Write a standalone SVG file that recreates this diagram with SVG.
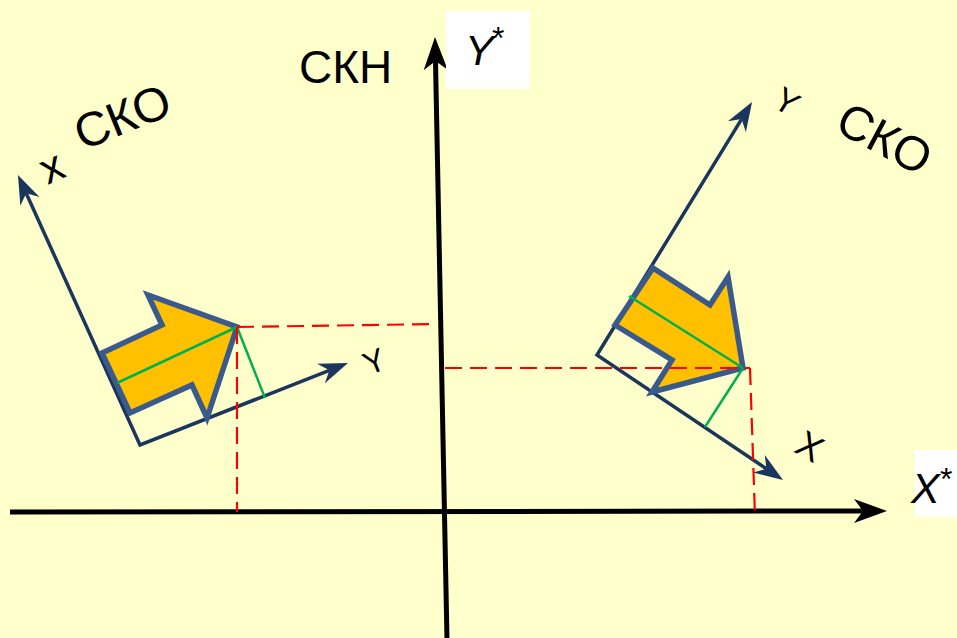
<svg xmlns="http://www.w3.org/2000/svg" width="957" height="638" viewBox="0 0 957 638">
<style>
.axis{stroke:#000;stroke-width:5;fill:none}
.frame{stroke:#1B365D;stroke-width:3.5;fill:none;stroke-linejoin:miter}
.shape{fill:#FFC000;stroke:#3A5A8C;stroke-width:5.5;stroke-linejoin:miter}
.green{stroke:#00B050;stroke-width:2.5;fill:none}
.red{stroke:#FF0000;stroke-width:2.2;fill:none;stroke-dasharray:17 8}
.lbl{font-family:"Liberation Sans",Arial,sans-serif;fill:#000}
.it{font-style:italic}
</style>
<defs>
<marker id="ahBlack" viewBox="-34 -13 36 26" refX="-24" refY="0" markerWidth="36" markerHeight="26" markerUnits="userSpaceOnUse" orient="auto">
<path d="M0,0 L-33,-12 L-24,0 L-33,12 Z" fill="#000"/>
</marker>
<marker id="ahBlue" viewBox="-31 -12 33 24" refX="-20" refY="0" markerWidth="33" markerHeight="24" markerUnits="userSpaceOnUse" orient="auto-start-reverse">
<path d="M0,0 L-29,-10.5 L-20,0 L-29,10.5 Z" fill="#1B365D"/>
</marker>
</defs>
<rect width="957" height="638" fill="#FFFFCC"/>

<g id="axes">
<line class="axis" x1="10" y1="512" x2="863" y2="511" marker-end="url(#ahBlack)"/>
<line class="axis" x1="447" y1="640" x2="435.5" y2="61" marker-end="url(#ahBlack)"/>
</g>

<g id="label-ckn">
<text class="lbl" x="299" y="83" font-size="46">СКН</text>
</g>
<g id="label-ystar">
<rect x="446" y="11" width="84" height="78" fill="#FFFFFF"/>
<text class="lbl it" x="465" y="65" font-size="43">Y</text>
<text class="lbl" x="492" y="49" font-size="32">*</text>
</g>
<g id="label-xstar">
<rect x="915" y="450" width="42" height="67" fill="#FFFFFF"/>
<text class="lbl it" x="911" y="503" font-size="43">X</text>
<text class="lbl" x="940" y="490" font-size="32">*</text>
</g>

<g id="left-frame">
<path class="frame" d="M26.2,193.2 L140,445 L329.4,370.3" marker-start="url(#ahBlue)" marker-end="url(#ahBlue)"/>
<polygon class="shape" points="102,353 162,325 148,295 237,327 207,418 192,385 130,413"/>
<text class="lbl" transform="translate(53,170) rotate(-24)" text-anchor="middle" dy="0.26em" font-size="44">x</text>
<text class="lbl" transform="translate(122,116) rotate(-22)" text-anchor="middle" dy="0.36em" font-size="48">СКО</text>
<text class="lbl" transform="translate(374,361) rotate(-22)" text-anchor="middle" dy="0.36em" font-size="32">Y</text>
</g>

<g id="right-frame">
<path class="frame" d="M741.6,119.1 L597,355 L766.4,468.8" marker-start="url(#ahBlue)" marker-end="url(#ahBlue)"/>
<polygon class="shape" points="615,325 653,268 710,305 728,277 743,368 652,392 672,360"/>
<text class="lbl" transform="translate(787,101) rotate(32)" text-anchor="middle" dy="0.36em" font-size="34">Y</text>
<text class="lbl" transform="translate(885,138) rotate(28)" text-anchor="middle" dy="0.36em" font-size="48">СКО</text>
<text class="lbl" transform="translate(810,446) rotate(30)" text-anchor="middle" dy="0.36em" font-size="37">X</text>
</g>

<g id="connectors">
<line class="green" x1="117" y1="383" x2="237" y2="327"/>
<line class="green" x1="237" y1="327" x2="265" y2="398"/>
<line class="green" x1="629" y1="296" x2="743" y2="368"/>
<line class="green" x1="743" y1="368" x2="705" y2="427"/>
<line class="red" x1="237" y1="327" x2="437" y2="324"/>
<line class="red" x1="237" y1="327" x2="237" y2="512"/>
<line class="red" x1="445" y1="368" x2="750" y2="368"/>
<line class="red" x1="750" y1="368" x2="755" y2="516"/>
</g>
</svg>
